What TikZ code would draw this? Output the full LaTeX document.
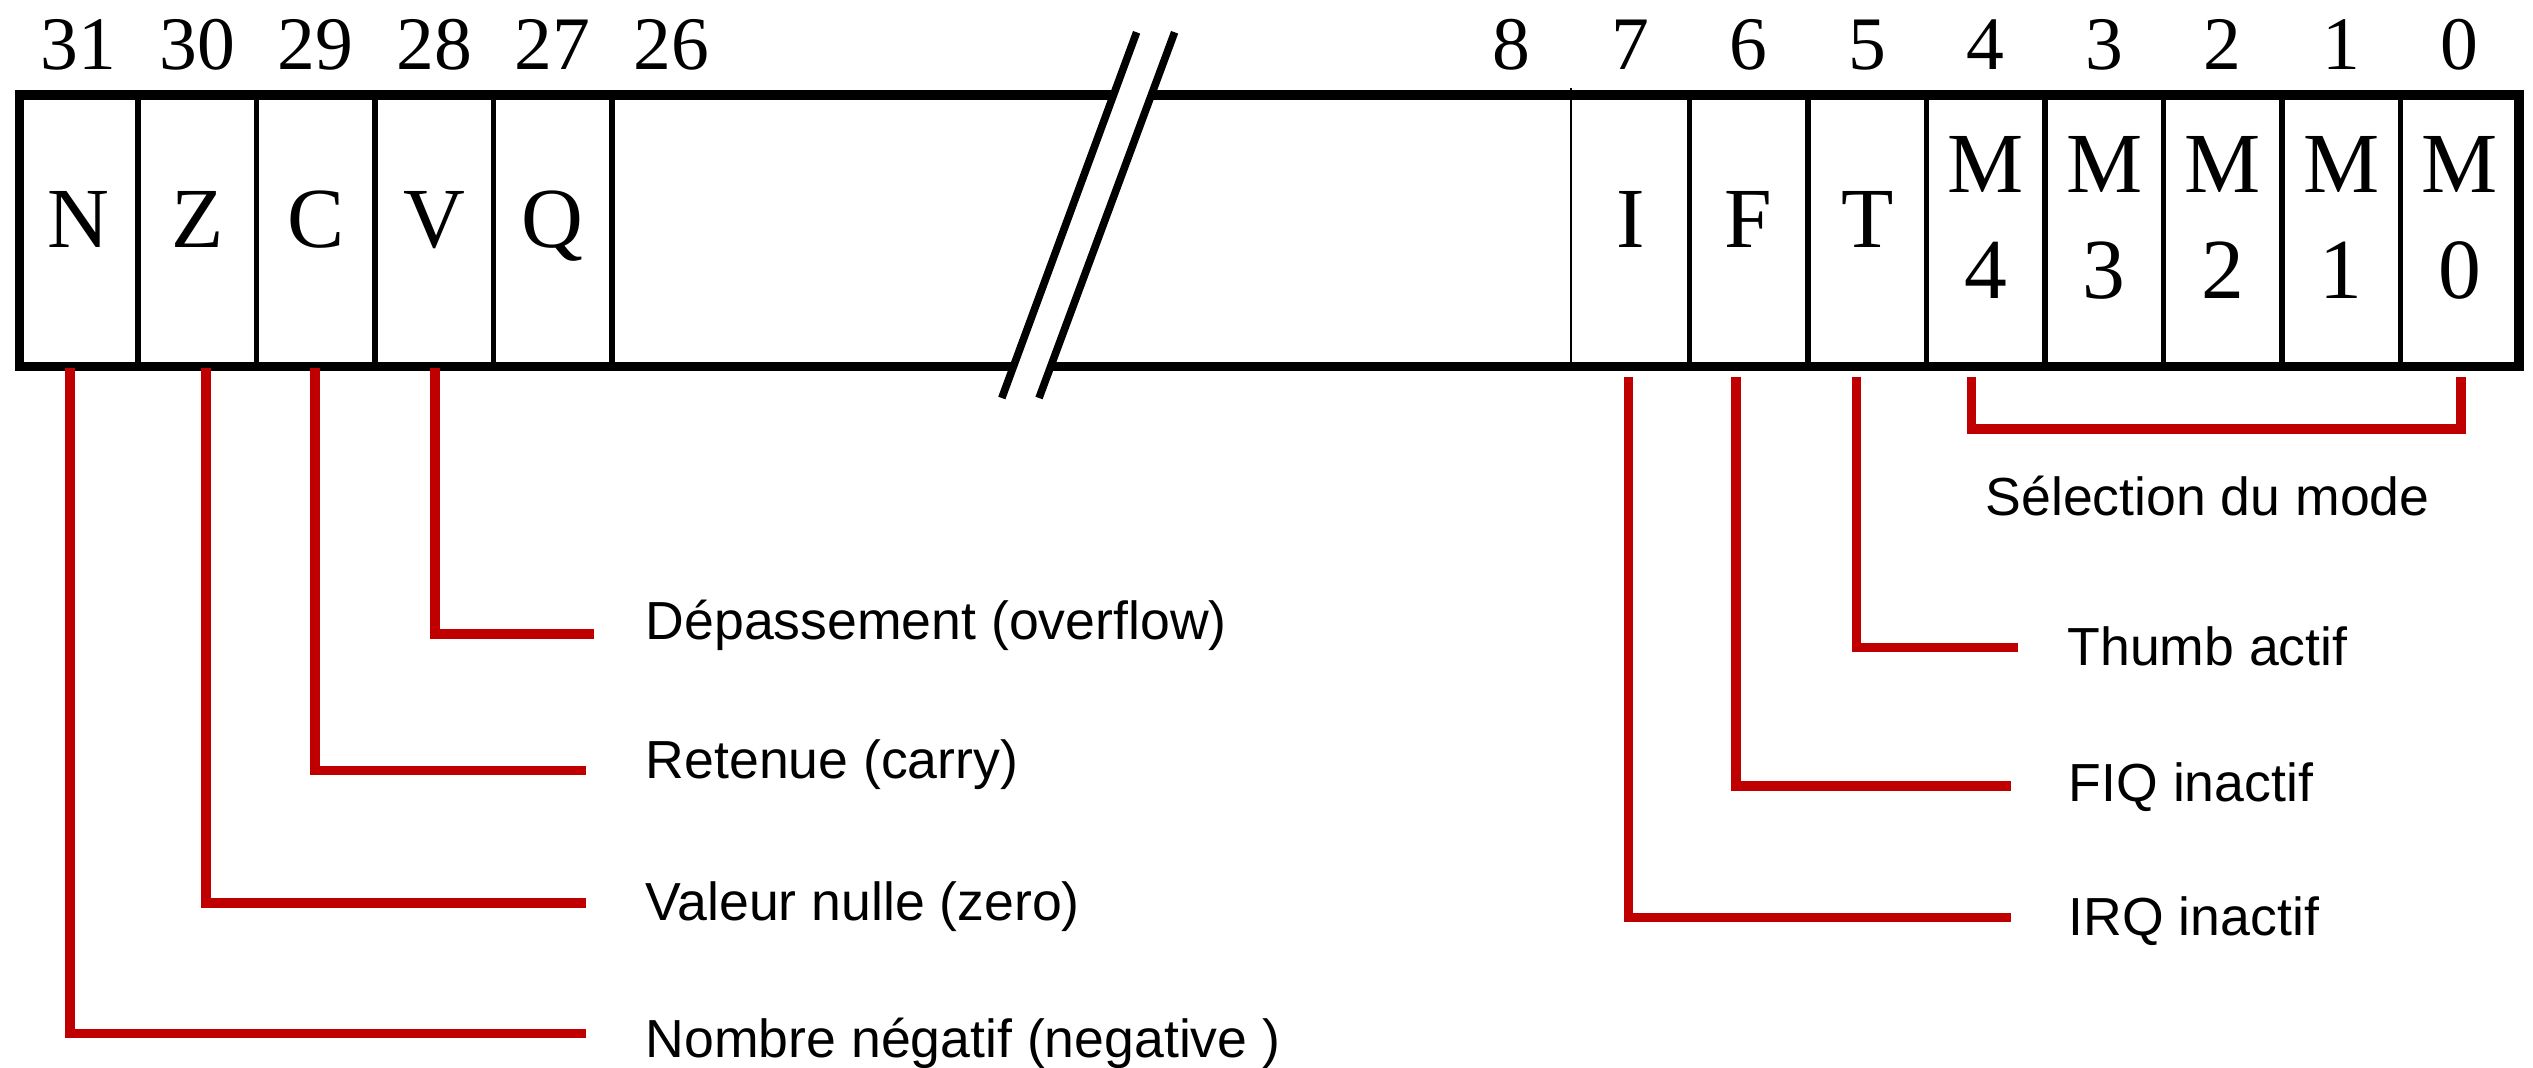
\documentclass[tikz,border=0pt]{standalone}
\usepackage{fontspec}
\setmainfont{Liberation Serif}
\newfontfamily\lblfont{Liberation Sans}
\definecolor{myred}{RGB}{192,0,0}
\begin{document}
\begin{tikzpicture}[x=0.25pt,y=-0.25pt,
  boxline/.style={line width=2.4pt},
  divline/.style={line width=1.3pt},
  thinline/.style={line width=0.4pt},
  breakline/.style={line width=1.9pt},
  redline/.style={draw=myred,line width=2.4pt},
  letter/.style={font=\fontsize{21.4}{22}\selectfont, inner sep=0pt, anchor=base},
  bitnum/.style={font=\fontsize{18.9}{20}\selectfont, inner sep=0pt, anchor=base},
  desc/.style={font=\lblfont\fontsize{13.4}{15}\selectfont, inner sep=0pt, anchor=base west},
]
\useasboundingbox (0,0) rectangle (2533,1068);

% register box
\draw[boxline] (19.5,95.3) rectangle (2519,366.7);
\foreach \x in {138,256.5,375,493.5,612,1689.5,1808,1926.5,2045,2163.5,2282,2400.5}
  \draw[divline] (\x,95.3) -- (\x,366.7);
\draw[thinline] (1571,88) -- (1571,366.7);

% break mark
\fill[white] (1136.6,32.3) -- (1174.6,32.3) -- (1039,398) -- (1001.8,398) -- cycle;
\draw[breakline] (1136.6,32.3) -- (1001.8,398);
\draw[breakline] (1174.6,32.3) -- (1039,398);

% bit numbers
\foreach \n/\x in {31/78.75,30/197.25,29/315.75,28/434.25,27/552.75,26/671.25,
  8/1511.75,7/1630.25,6/1748.75,5/1867.25,4/1985.75,3/2104.25,2/2222.75,1/2341.25,0/2459.75}
  \node[bitnum] (b\n) at (\x,69.3) {\n};

% cell letters
\foreach \l/\x in {N/78.75,Z/197.25,C/315.75,V/434.25,Q/552.75,I/1630.25,F/1748.75,T/1867.25}
  \node[letter] (c\l) at (\x,247.3) {\l};
\foreach \d/\x in {4/1985.75,3/2104.25,2/2222.75,1/2341.25,0/2459.75}{
  \node[letter] (m\d) at (\x,192.7) {M};
  \node[letter] (md\d) at (\x,299) {\d};
}

% descriptions
\node[desc] (lV) at (645,639.4) {Dépassement (overflow)};
\node[desc] (lC) at (645,778) {Retenue (carry)};
\node[desc] (lZ) at (645,920) {Valeur nulle (zero)};
\node[desc] (lN) at (645,1057.4) {Nombre négatif (negative )};
\node[desc] (lM) at (1984.8,515.4) {Sélection du mode};
\node[desc] (lT) at (2066.7,665.4) {Thumb actif};
\node[desc] (lF) at (2068,801.9) {FIQ inactif};
\node[desc] (lI) at (2068,935.8) {IRQ inactif};

% connector anchors
\coordinate (rN0) at (70,368);   \coordinate (rN1) at (586,1033.6);
\coordinate (rZ0) at (206,368);  \coordinate (rZ1) at (586,902.7);
\coordinate (rC0) at (314.7,368);\coordinate (rC1) at (586,770.3);
\coordinate (rV0) at (435,368);  \coordinate (rV1) at (593.7,634);
\coordinate (rI0) at (1628.4,376.7); \coordinate (rI1) at (2010.6,917.3);
\coordinate (rF0) at (1736,376.7);   \coordinate (rF1) at (2010.6,785.8);
\coordinate (rT0) at (1856.6,376.7); \coordinate (rT1) at (2017.5,647.3);
\coordinate (rM4) at (1971.3,376.7); \coordinate (rM0) at (2461,376.7);
\coordinate (rMy) at (2200,429.2);

% red connectors
\draw[redline] (rN0) |- (rN1);
\draw[redline] (rZ0) |- (rZ1);
\draw[redline] (rC0) |- (rC1);
\draw[redline] (rV0) |- (rV1);
\draw[redline] (rI0) |- (rI1);
\draw[redline] (rF0) |- (rF1);
\draw[redline] (rT0) |- (rT1);
\draw[redline] (rM4) |- (rMy) -| (rM0);
\end{tikzpicture}
\end{document}
